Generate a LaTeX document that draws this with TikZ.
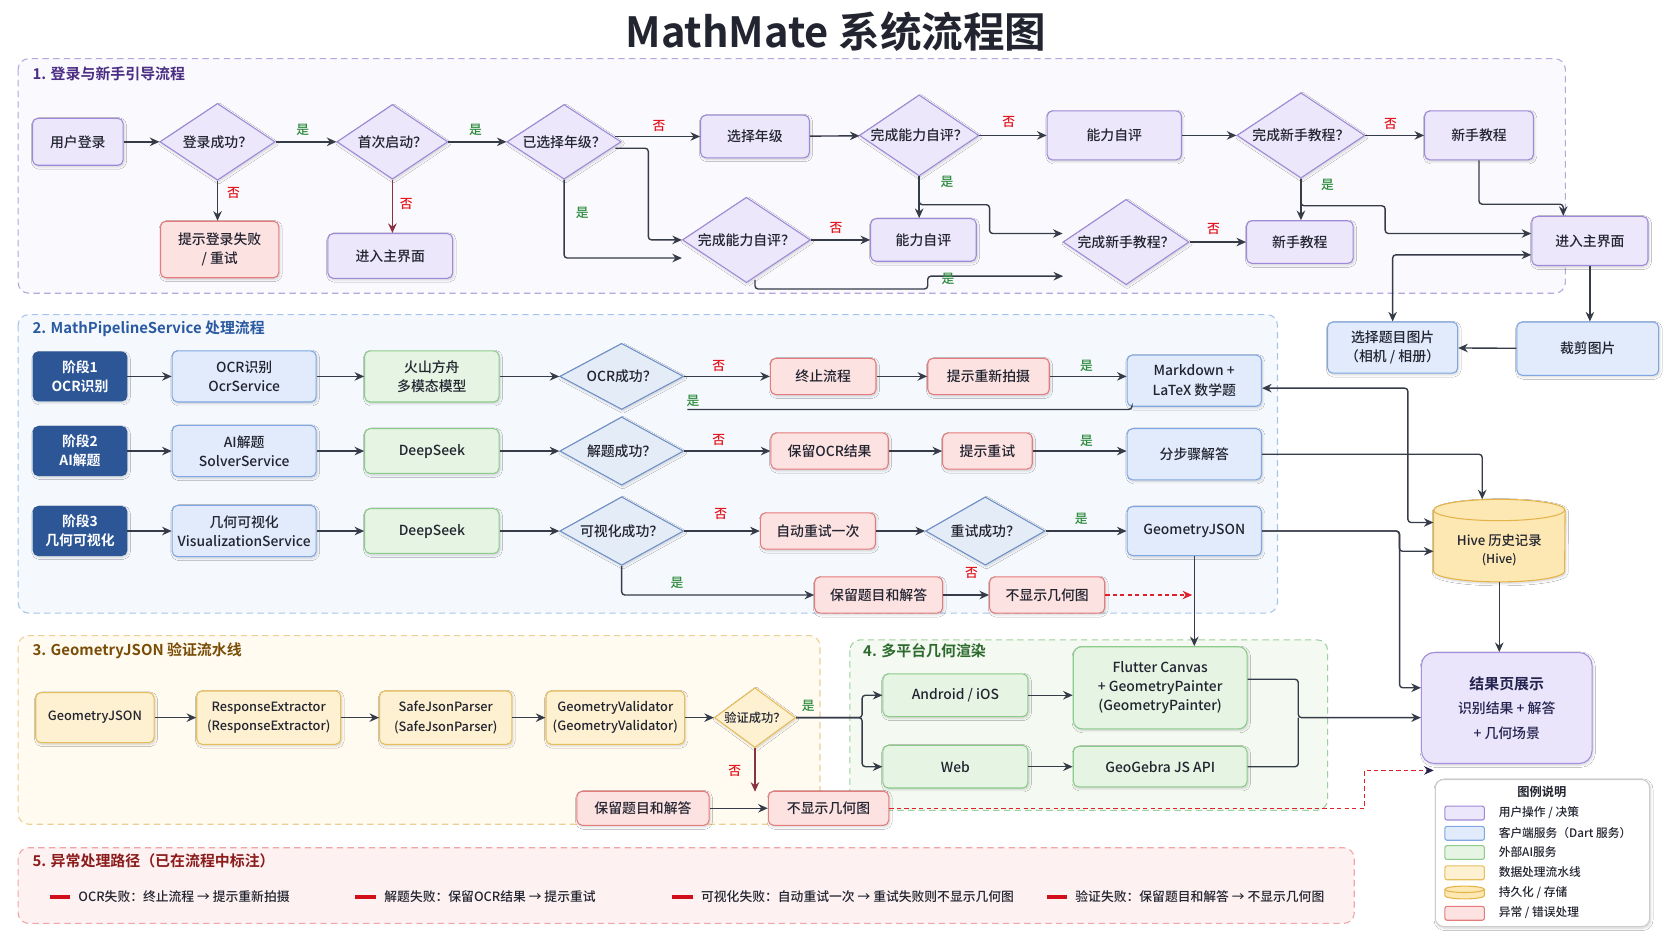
\documentclass[tikz,border=0pt]{standalone}
\usepackage{fontspec}
\setmainfont{Noto Sans CJK SC}[UprightFont={* Medium}, BoldFont={* Bold}]
\usetikzlibrary{arrows.meta, shapes.geometric, shadows.blur, calc}

% 颜色
\definecolor{txtC}{HTML}{222430}
\definecolor{lineC}{HTML}{363B48}
\definecolor{yesC}{HTML}{2E8B3D}
\definecolor{noC}{HTML}{E3141C}
\definecolor{noLineC}{HTML}{8A3340}
\definecolor{failC}{HTML}{E0202A}
\definecolor{navyC}{HTML}{23234F}
\definecolor{userF}{HTML}{ECE7FB}
\definecolor{userD}{HTML}{9E8AD9}
\definecolor{errF}{HTML}{FDE2E2}
\definecolor{errD}{HTML}{E57C7C}
\definecolor{cliF}{HTML}{E1EBFB}
\definecolor{cliD}{HTML}{80A7E2}
\definecolor{stageF}{HTML}{2C5696}
\definecolor{aiF}{HTML}{E5F4E3}
\definecolor{aiD}{HTML}{8DCB8B}
\definecolor{decF}{HTML}{E4ECF8}
\definecolor{decD}{HTML}{6F90C7}
\definecolor{pipeF}{HTML}{FEF1D2}
\definecolor{pipeD}{HTML}{E6BE5C}
\definecolor{dbF}{HTML}{FDE8B3}
\definecolor{dbD}{HTML}{E5B449}
\definecolor{resF}{HTML}{EBE5FC}
\definecolor{resD}{HTML}{A48FE0}
\definecolor{s1F}{HTML}{FAF9FE}
\definecolor{s1D}{HTML}{B7A7DC}
\definecolor{s1T}{HTML}{4B2E83}
\definecolor{s2F}{HTML}{F5F9FE}
\definecolor{s2D}{HTML}{A9C4EA}
\definecolor{s2T}{HTML}{2B5AA0}
\definecolor{s3F}{HTML}{FFFBF1}
\definecolor{s3D}{HTML}{EBCF94}
\definecolor{s3T}{HTML}{7A4D06}
\definecolor{s4F}{HTML}{F4FAF2}
\definecolor{s4D}{HTML}{9FD09F}
\definecolor{s4T}{HTML}{2D6A2D}
\definecolor{s5F}{HTML}{FDF1F1}
\definecolor{s5D}{HTML}{F0A6A6}
\definecolor{s5T}{HTML}{8C1C1C}
\definecolor{barC}{HTML}{D10F1A}

\begin{document}
\begin{tikzpicture}[x=1pt, y=-1pt, >={Stealth[length=9pt, width=8pt]},
	every node/.style={font=\fontsize{13}{18}\selectfont, text=txtC},
	soft/.style={blur shadow={shadow blur steps=5, shadow xshift=1pt, shadow yshift=-1.5pt, shadow opacity=18}},
	nd/.style={draw, rounded corners=5pt, line width=1pt, align=center, inner sep=2pt, soft},
	user/.style={nd, fill=userF, draw=userD},
	err/.style={nd, fill=errF, draw=errD},
	cli/.style={nd, fill=cliF, draw=cliD},
	stage/.style={nd, fill=stageF, draw=stageF, text=white, font=\bfseries\fontsize{13}{18}\selectfont},
	ai/.style={nd, fill=aiF, draw=aiD},
	pipe/.style={nd, fill=pipeF, draw=pipeD, font=\fontsize{12}{18}\selectfont},
	dec/.style={diamond, aspect=1.5, draw, line width=1pt, inner sep=0pt, align=center, soft},
	udec/.style={dec, fill=userF, draw=userD},
	bdec/.style={dec, fill=decF, draw=decD},
	ydec/.style={dec, aspect=1.4, fill=pipeF, draw=pipeD, font=\fontsize{11.5}{14}\selectfont},
	link/.style={draw=lineC, line width=1.3pt, rounded corners=3pt},
	flow/.style={link, ->},
	noflow/.style={flow, draw=noLineC},
	faildash/.style={->, draw=failC, line width=1.2pt, dash pattern=on 4pt off 3pt},
	yeslbl/.style={text=yesC, font=\fontsize{12}{14}\selectfont},
	nolbl/.style={text=noC, font=\fontsize{12}{14}\selectfont},
	secbox/.style={line width=1pt, rounded corners=10pt, dash pattern=on 6pt off 4pt},
	sectitle/.style={anchor=west, font=\bfseries\fontsize{14}{16}\selectfont},
	legtext/.style={anchor=west, font=\fontsize{11}{13}\selectfont},
	failtext/.style={anchor=west, font=\fontsize{12}{14}\selectfont}]

	% ---------- 画布 ----------
	\useasboundingbox (0,0) rectangle (1568,882);
	\fill[white] (0,0) rectangle (1568,882);

	% 标题
	\node[font=\bfseries\fontsize{39}{44}\selectfont] (title) at (784,30) {MathMate 系统流程图};

	% ---------- 分区底框 ----------
	\draw[secbox, fill=s1F, draw=s1D] (17,55) rectangle (1468,275);
	\draw[secbox, fill=s2F, draw=s2D] (17,295) rectangle (1198,575);
	\draw[secbox, fill=s3F, draw=s3D] (17,596) rectangle (769,773);
	\draw[secbox, fill=s4F, draw=s4D] (797,600) rectangle (1245,760);
	\draw[secbox, fill=s5F, draw=s5D] (17,795) rectangle (1270,866);

	\node[sectitle, text=s1T] (s1t) at (27,69) {1. 登录与新手引导流程};
	\node[sectitle, text=s2T] (s2t) at (27,308) {2. MathPipelineService 处理流程};
	\node[sectitle, text=s3T] (s3t) at (27,610) {3. GeometryJSON 验证流水线};
	\node[sectitle, text=s4T] (s4t) at (806,610) {4. 多平台几何渲染};
	\node[sectitle, text=s5T] (s5t) at (27,807) {5. 异常处理路径（已在流程中标注）};

	% ---------- 1. 登录与新手引导 ----------
	\node[user, minimum width=85, minimum height=44] (login) at (73,133) {用户登录};
	\node[udec, minimum width=108, minimum height=72] (loginok) at (204,133) {登录成功？};
	\node[err, minimum width=111, minimum height=53] (loginfail) at (206,234) {提示登录失败\\/ 重试};
	\node[udec, minimum width=104, minimum height=70] (firstrun) at (368,133) {首次启动？};
	\node[user, minimum width=117, minimum height=42] (home1) at (366,240) {进入主界面};
	\node[udec, minimum width=107, minimum height=70] (gradeq) at (529,133) {已选择年级？};
	\node[user, minimum width=102, minimum height=40] (selgrade) at (708,128) {选择年级};
	\node[udec, minimum width=112, minimum height=76] (assessq1) at (862,127) {完成能力自评？};
	\node[user, minimum width=126, minimum height=46] (assess1) at (1045,127) {能力自评};
	\node[udec, minimum width=120, minimum height=80] (tutq1) at (1220,127) {完成新手教程？};
	\node[user, minimum width=102, minimum height=46] (tut1) at (1387,127) {新手教程};
	\node[udec, minimum width=120, minimum height=80] (assessq2) at (700,225) {完成能力自评？};
	\node[user, minimum width=99, minimum height=40] (assess2) at (866,225) {能力自评};
	\node[udec, minimum width=118, minimum height=80] (tutq2) at (1056,227) {完成新手教程？};
	\node[user, minimum width=100, minimum height=40] (tut2) at (1219,227) {新手教程};
	\node[user, minimum width=109, minimum height=46] (home2) at (1491,226) {进入主界面};
	\node[cli, minimum width=122, minimum height=48] (pick) at (1306,326) {选择题目图片\\（相机 / 相册）};
	\node[cli, minimum width=133, minimum height=50] (crop) at (1489,327) {裁剪图片};

	% 连线
	\draw[flow] (login) -- (loginok);
	\draw[flow] (loginok.south) -- (loginok.south |- loginfail.north);
	\node[nolbl] (n1) at (219,181) {否};
	\draw[flow] (loginok) -- (firstrun);
	\node[yeslbl] (y1) at (284,122) {是};
	\draw[noflow] (firstrun.south) -- (firstrun.south |- home1.north);
	\node[nolbl] (n2) at (381,191) {否};
	\draw[flow] (firstrun) -- (gradeq);
	\node[yeslbl] (y2) at (446,122) {是};
	\draw[flow] ($(gradeq.east)+(-6,-5)$) -- (selgrade.west);
	\node[nolbl] (n3) at (618,118) {否};
	\draw[flow] ($(gradeq.east)+(-6,6)$) -- ++(31,0) |- (assessq2.west);
	\draw[flow] (gradeq.south) |- ($(assessq2.west)+(0,17)$);
	\node[yeslbl] (y3) at (546,200) {是};
	\draw[flow] (selgrade) -- (assessq1);
	\draw[flow] (assessq1) -- (assess1);
	\node[nolbl] (n4) at (946,114) {否};
	\draw[flow] (assessq1.south) -- (assessq1.south |- assess2.north);
	\draw[flow] (assessq1.south) |- (928,192) |- ($(tutq2.west)+(0,-8)$);
	\node[yeslbl] (y4) at (888,171) {是};
	\draw[flow] (assess1) -- (tutq1);
	\draw[flow] (tutq1) -- (tut1);
	\node[nolbl] (n5) at (1304,116) {否};
	\draw[flow] (tutq1.south) -- (tutq1.south |- tut2.north);
	\draw[flow] (tutq1.south) |- (1299,193) |- ($(home2.west)+(0,-7)$);
	\node[yeslbl] (y5) at (1245,173) {是};
	\draw[flow] (assessq2) -- (assess2);
	\node[nolbl] (n6) at (784,214) {否};
	\draw[flow] ($(assessq2.south)+(8,-3)$) |- (870,271) |- (997,259);
	\node[yeslbl] (y6) at (889,262) {是};
	\draw[flow] (tutq2) -- (tut2);
	\node[nolbl] (n7) at (1138,215) {否};
	\draw[flow] (tut1.south) -- ++(0,41) -| ($(home2.north)+(-25,0)$);
	\draw[link, <->] (pick.north) |- ($(home2.west)+(0,13)$);
	\draw[flow] (home2.south) -- (home2.south |- crop.north);
	\draw[flow] (crop) -- (pick);

	% ---------- 2. MathPipelineService ----------
	\node[stage, minimum width=88, minimum height=46] (st1) at (75,353) {阶段1\\OCR识别};
	\node[stage, minimum width=88, minimum height=46] (st2) at (75,423) {阶段2\\AI解题};
	\node[stage, minimum width=88, minimum height=46] (st3) at (75,498) {阶段3\\几何可视化};
	\node[cli, minimum width=135, minimum height=48] (ocrsvc) at (229,353) {OCR识别\\OcrService};
	\node[cli, minimum width=135, minimum height=48] (solsvc) at (229,423) {AI解题\\SolverService};
	\node[cli, minimum width=135, minimum height=48] (vissvc) at (229,498) {几何可视化\\VisualizationService};
	\node[ai, minimum width=126, minimum height=48] (volc) at (405,353) {火山方舟\\多模态模型};
	\node[ai, minimum width=126, minimum height=42] (ds1) at (405,423) {DeepSeek};
	\node[ai, minimum width=126, minimum height=42] (ds2) at (405,498) {DeepSeek};
	\node[bdec, minimum width=116, minimum height=62] (ocrok) at (583,353) {OCR成功？};
	\node[bdec, minimum width=116, minimum height=64] (solveok) at (583,423) {解题成功？};
	\node[bdec, minimum width=116, minimum height=64] (visok) at (583,498) {可视化成功？};
	\node[err, minimum width=99, minimum height=34] (stop) at (772,353) {终止流程};
	\node[err, minimum width=114, minimum height=34] (reshoot) at (927,353) {提示重新拍摄};
	\node[cli, minimum width=126, minimum height=48] (md) at (1120,357) {Markdown +\\LaTeX 数学题};
	\node[err, minimum width=110, minimum height=34] (keepocr) at (778,423) {保留OCR结果};
	\node[err, minimum width=84, minimum height=34] (retryhint) at (926,423) {提示重试};
	\node[cli, minimum width=126, minimum height=48] (steps) at (1120,426) {分步骤解答};
	\node[err, minimum width=108, minimum height=34] (autoretry) at (767,498) {自动重试一次};
	\node[bdec, minimum width=112, minimum height=64] (retryok) at (924,498) {重试成功？};
	\node[cli, minimum width=126, minimum height=46] (geojson) at (1120,498) {GeometryJSON};
	\node[err, minimum width=120, minimum height=34] (keepqa) at (824,558) {保留题目和解答};
	\node[err, minimum width=108, minimum height=34] (nogeo) at (982,558) {不显示几何图};

	% 连线
	\draw[flow] (st1) -- (ocrsvc);
	\draw[flow] (ocrsvc) -- (volc);
	\draw[flow] (volc) -- (ocrok);
	\draw[flow] (st2) -- (solsvc);
	\draw[flow] (solsvc) -- (ds1);
	\draw[flow] (ds1) -- (solveok);
	\draw[flow] (st3) -- (vissvc);
	\draw[flow] (vissvc) -- (ds2);
	\draw[flow] (ds2) -- (visok);
	\draw[flow] (ocrok) -- (stop);
	\node[nolbl] (n8) at (674,343) {否};
	\draw[flow] (stop) -- (reshoot);
	\draw[flow] (reshoot.east) -- (reshoot.east -| md.west);
	\node[yeslbl] (y8) at (1019,343) {是};
	\draw[link] ($(ocrok.east)+(3,31)$) -| ($(md.south west)+(5,0)$);
	\node[yeslbl] (y9) at (650,376) {是};
	\draw[flow] (solveok) -- (keepocr);
	\node[nolbl] (n9) at (674,413) {否};
	\draw[flow] (keepocr) -- (retryhint);
	\draw[flow] (retryhint.east) -- (retryhint.east -| steps.west);
	\node[yeslbl] (y10) at (1019,413) {是};
	\draw[flow] (visok) -- (autoretry);
	\node[nolbl] (n10) at (676,482) {否};
	\draw[flow] (autoretry) -- (retryok);
	\draw[flow] (retryok) -- (geojson);
	\node[yeslbl] (y11) at (1014,487) {是};
	\draw[flow] (visok.south) |- (keepqa.west);
	\node[yeslbl] (y12) at (635,547) {是};
	\draw[flow] (keepqa) -- (nogeo);
	\node[nolbl] (n11) at (911,537) {否};
	\draw[faildash] (nogeo.east) -- ($(nogeo.east -| geojson.south)+(-2,0)$);
	\draw[flow] (geojson.south) -- (geojson.south |- 0,606);

	% ---------- Hive 存储与结果页 ----------
	\node[minimum width=123, minimum height=77, inner sep=0pt] (hive) at (1406,507) {};
	\filldraw[fill=dbF, draw=dbD, line width=1pt, soft] ($(hive.north west)+(0,10)$) -- ($(hive.south west)+(0,-10)$)
		arc[start angle=180, end angle=0, x radius=61.5, y radius=10] -- ($(hive.north east)+(0,10)$)
		arc[start angle=0, end angle=-180, x radius=61.5, y radius=10] -- cycle;
	\draw[draw=dbD, line width=1pt] ($(hive.north west)+(0,10)$) arc[start angle=180, end angle=0, x radius=61.5, y radius=10];
	\node[align=center, font=\fontsize{12.5}{18}\selectfont] (hivelbl) at (1406,516) {Hive 历史记录\\[-1pt]{\fontsize{11.5}{14}\selectfont (Hive)}};

	\node[nd, fill=resF, draw=resD, rounded corners=12pt, minimum width=160, minimum height=104, text=navyC,
		font=\fontsize{13}{23}\selectfont] (result) at (1413,664)
		{{\bfseries\fontsize{14}{23}\selectfont 结果页展示}\\识别结果 + 解答\\+ 几何场景};

	\draw[flow] (steps.east) -| ($(hive.north)+(-16,0)$);
	\draw[link, <->] ($(md.east)+(0,7)$) -| ($(hive.west)+(-24,-17)$) -- ($(hive.west)+(0,-17)$);
	\draw[flow] (geojson.east) -| ($(hive.west)+(-32,10)$) -- ($(hive.west)+(0,10)$);
	\draw[flow] (geojson.east) -| ($(result.west)+(-20,-19)$) -- ($(result.west)+(0,-19)$);
	\draw[flow] (hive.south) -- (hive.south |- result.north);

	% ---------- 3. GeometryJSON 验证流水线 ----------
	\node[pipe, minimum width=111, minimum height=47] (geo3) at (89,673) {GeometryJSON};
	\node[pipe, minimum width=135, minimum height=50] (respx) at (252,673) {ResponseExtractor\\(ResponseExtractor)};
	\node[pipe, minimum width=124, minimum height=50] (safejp) at (418,673) {SafeJsonParser\\(SafeJsonParser)};
	\node[pipe, minimum width=130, minimum height=50] (geoval) at (577,673) {GeometryValidator\\(GeometryValidator)};
	\node[ydec, minimum width=76, minimum height=56] (valok) at (708,673) {验证成功？};
	\node[err, minimum width=124, minimum height=32] (keepqa3) at (603,758) {保留题目和解答};
	\node[err, minimum width=113, minimum height=32] (nogeo3) at (777,758) {不显示几何图};

	\draw[flow] (geo3) -- (respx);
	\draw[flow] (respx) -- (safejp);
	\draw[flow] (safejp) -- (geoval);
	\draw[flow] (geoval) -- (valok);
	\draw[noflow] (valok.south) -- ++(0,41);
	\node[nolbl] (n12) at (689,723) {否};
	\draw[flow] (keepqa3) -- (nogeo3);
	\draw[faildash, -{Stealth[length=9pt, width=8pt, color=navyC]}] (nogeo3.east) -| ($(result.south west)+(-53,6)$) -- ($(result.south west)+(12,6)$);

	% ---------- 4. 多平台几何渲染 ----------
	\node[ai, minimum width=136, minimum height=40] (android) at (896,652) {Android / iOS};
	\node[ai, minimum width=136, minimum height=40] (web) at (896,719) {Web};
	\node[ai, rounded corners=8pt, minimum width=163, minimum height=77] (flutter) at (1088,645) {Flutter Canvas\\+ GeometryPainter\\(GeometryPainter)};
	\node[ai, minimum width=163, minimum height=38] (gebra) at (1088,719) {GeoGebra JS API};

	\draw[flow] (valok.east) -- ++(62,0) |- (android.west);
	\draw[flow] (valok.east) -- ++(62,0) |- (web.west);
	\node[yeslbl] (y13) at (758,662) {是};
	\draw[flow] (android.east) -- (android.east -| flutter.west);
	\draw[flow] (web) -- (gebra);
	\draw[flow] ($(flutter.east)+(0,-8)$) -| ($(result.west)+(-115,9)$) -- ($(result.west)+(0,9)$);
	\draw[link] (gebra.east) -| ($(result.west)+(-115,9)$);

	% ---------- 图例 ----------
	\draw[fill=white, draw=black!20, line width=1pt, rounded corners=8pt, soft] (1346,731) rectangle (1547,869);
	\node[font=\bfseries\fontsize{11.5}{14}\selectfont] (legtitle) at (1446,743) {图例说明};
	\draw[fill=userF, draw=userD, line width=1pt, rounded corners=2pt] (1355,756) rectangle (1392,769);
	\node[legtext] (lg1) at (1402,762) {用户操作 / 决策};
	\draw[fill=cliF, draw=cliD, line width=1pt, rounded corners=2pt] (1355,775) rectangle (1392,788);
	\node[legtext] (lg2) at (1402,781) {客户端服务（Dart 服务）};
	\draw[fill=aiF, draw=aiD, line width=1pt, rounded corners=2pt] (1355,793) rectangle (1392,806);
	\node[legtext] (lg3) at (1402,799) {外部AI服务};
	\draw[fill=pipeF, draw=pipeD, line width=1pt, rounded corners=2pt] (1355,812) rectangle (1392,825);
	\node[legtext] (lg4) at (1402,818) {数据处理流水线};
	\filldraw[fill=dbF, draw=dbD, line width=1pt] (1355,834) -- (1355,840) arc[start angle=180, end angle=0, x radius=18.5, y radius=3]
		-- (1392,834) arc[start angle=0, end angle=-180, x radius=18.5, y radius=3] -- cycle;
	\draw[draw=dbD, line width=1pt] (1355,834) arc[start angle=180, end angle=0, x radius=18.5, y radius=3];
	\node[legtext] (lg5) at (1402,837) {持久化 / 存储};
	\draw[fill=errF, draw=errD, line width=1pt, rounded corners=2pt] (1355,850) rectangle (1392,863);
	\node[legtext] (lg6) at (1402,856) {异常 / 错误处理};

	% ---------- 5. 异常处理路径 ----------
	\draw[barC, line width=3.5pt] (47,841) -- (66,841);
	\node[failtext] (f1) at (70,841) {OCR失败：终止流程 → 提示重新拍摄};
	\draw[barC, line width=3.5pt] (333,841) -- (353,841);
	\node[failtext] (f2) at (357,841) {解题失败：保留OCR结果 → 提示重试};
	\draw[barC, line width=3.5pt] (630,841) -- (650,841);
	\node[failtext] (f3) at (654,841) {可视化失败：自动重试一次 → 重试失败则不显示几何图};
	\draw[barC, line width=3.5pt] (982,841) -- (1001,841);
	\node[failtext] (f4) at (1005,841) {验证失败：保留题目和解答 → 不显示几何图};
\end{tikzpicture}
\end{document}
